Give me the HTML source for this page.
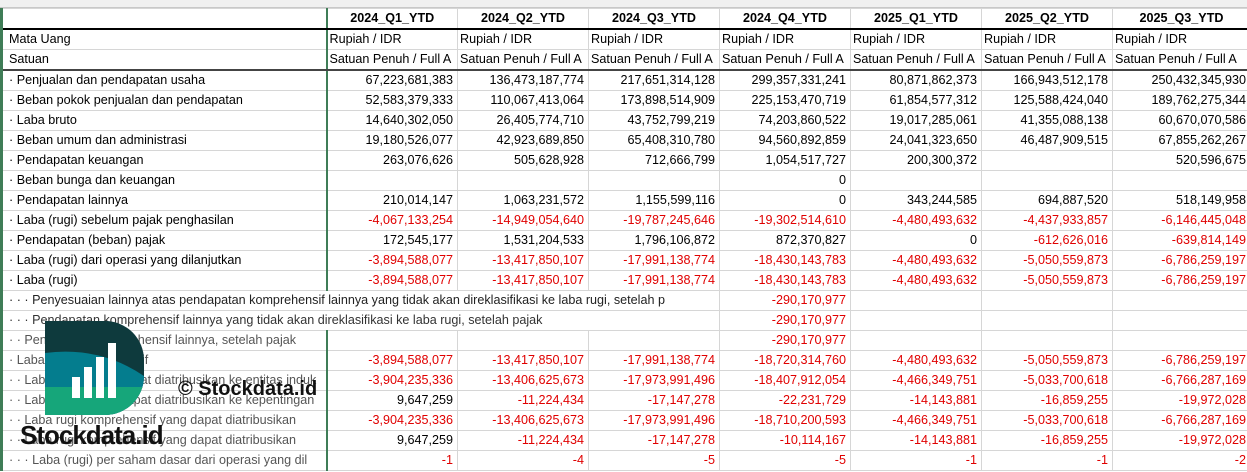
<!DOCTYPE html>
<html><head><meta charset="utf-8"><style>
body{margin:0;width:1247px;height:472px;overflow:hidden;background:#fff;font-family:"Liberation Sans",sans-serif;font-size:12.6px;position:relative}
.strip{position:absolute;left:0;top:0;width:1247px;height:7px;background:#f0f0f0;border-bottom:1px solid #c8c8c8}
table{position:absolute;left:0;top:8px;width:1249px;border-collapse:collapse;table-layout:fixed}
td{height:19px;padding:0 4px;border:1px solid #d6d6d6;white-space:nowrap;overflow:hidden;line-height:19px;text-align:right}
td.a{text-align:left;padding-left:6px;padding-right:2px;border-left:3px solid #3f7d57;border-right:2px solid #3f7d57}
tr.h td{font-weight:bold;text-align:center;border-bottom:2px solid #000}
tr.s td{border-bottom:2px solid #444}
td.l{text-align:left;padding-left:2px}
.r{color:#e00000}
.g{color:#555}
</style></head><body>
<div class="strip"></div>
<table>
<colgroup><col style="width:325px"><col style="width:131px"><col style="width:131px"><col style="width:131px"><col style="width:131px"><col style="width:131px"><col style="width:131px"><col style="width:138px"></colgroup>
<tr class="h"><td class="a"></td><td>2024_Q1_YTD</td><td>2024_Q2_YTD</td><td>2024_Q3_YTD</td><td>2024_Q4_YTD</td><td>2025_Q1_YTD</td><td>2025_Q2_YTD</td><td>2025_Q3_YTD</td></tr>
<tr><td class="a">Mata Uang</td><td class="l">Rupiah / IDR</td><td class="l">Rupiah / IDR</td><td class="l">Rupiah / IDR</td><td class="l">Rupiah / IDR</td><td class="l">Rupiah / IDR</td><td class="l">Rupiah / IDR</td><td class="l">Rupiah / IDR</td></tr>
<tr class="s"><td class="a">Satuan</td><td class="l">Satuan Penuh / Full A</td><td class="l">Satuan Penuh / Full A</td><td class="l">Satuan Penuh / Full A</td><td class="l">Satuan Penuh / Full A</td><td class="l">Satuan Penuh / Full A</td><td class="l">Satuan Penuh / Full A</td><td class="l">Satuan Penuh / Full A</td></tr>
<tr><td class="a">· Penjualan dan pendapatan usaha</td><td>67,223,681,383</td><td>136,473,187,774</td><td>217,651,314,128</td><td>299,357,331,241</td><td>80,871,862,373</td><td>166,943,512,178</td><td>250,432,345,930</td></tr>
<tr><td class="a">· Beban pokok penjualan dan pendapatan</td><td>52,583,379,333</td><td>110,067,413,064</td><td>173,898,514,909</td><td>225,153,470,719</td><td>61,854,577,312</td><td>125,588,424,040</td><td>189,762,275,344</td></tr>
<tr><td class="a">· Laba bruto</td><td>14,640,302,050</td><td>26,405,774,710</td><td>43,752,799,219</td><td>74,203,860,522</td><td>19,017,285,061</td><td>41,355,088,138</td><td>60,670,070,586</td></tr>
<tr><td class="a">· Beban umum dan administrasi</td><td>19,180,526,077</td><td>42,923,689,850</td><td>65,408,310,780</td><td>94,560,892,859</td><td>24,041,323,650</td><td>46,487,909,515</td><td>67,855,262,267</td></tr>
<tr><td class="a">· Pendapatan keuangan</td><td>263,076,626</td><td>505,628,928</td><td>712,666,799</td><td>1,054,517,727</td><td>200,300,372</td><td></td><td>520,596,675</td></tr>
<tr><td class="a">· Beban bunga dan keuangan</td><td></td><td></td><td></td><td>0</td><td></td><td></td><td></td></tr>
<tr><td class="a">· Pendapatan lainnya</td><td>210,014,147</td><td>1,063,231,572</td><td>1,155,599,116</td><td>0</td><td>343,244,585</td><td>694,887,520</td><td>518,149,958</td></tr>
<tr class="r"><td class="a" style="color:#000">· Laba (rugi) sebelum pajak penghasilan</td><td>-4,067,133,254</td><td>-14,949,054,640</td><td>-19,787,245,646</td><td>-19,302,514,610</td><td>-4,480,493,632</td><td>-4,437,933,857</td><td>-6,146,445,048</td></tr>
<tr><td class="a">· Pendapatan (beban) pajak</td><td>172,545,177</td><td>1,531,204,533</td><td>1,796,106,872</td><td>872,370,827</td><td>0</td><td class="r">-612,626,016</td><td class="r">-639,814,149</td></tr>
<tr class="r"><td class="a" style="color:#000">· Laba (rugi) dari operasi yang dilanjutkan</td><td>-3,894,588,077</td><td>-13,417,850,107</td><td>-17,991,138,774</td><td>-18,430,143,783</td><td>-4,480,493,632</td><td>-5,050,559,873</td><td>-6,786,259,197</td></tr>
<tr class="r"><td class="a" style="color:#000">· Laba (rugi)</td><td>-3,894,588,077</td><td>-13,417,850,107</td><td>-17,991,138,774</td><td>-18,430,143,783</td><td>-4,480,493,632</td><td>-5,050,559,873</td><td>-6,786,259,197</td></tr>
<tr><td class="a" colspan="4" style="color:#222;border-right:1px solid #d6d6d6">· · · Penyesuaian lainnya atas pendapatan komprehensif lainnya yang tidak akan direklasifikasi ke laba rugi, setelah p</td><td class="r">-290,170,977</td><td></td><td></td><td></td></tr>
<tr><td class="a" colspan="4" style="color:#333;border-right:1px solid #d6d6d6">· · · Pendapatan komprehensif lainnya yang tidak akan direklasifikasi ke laba rugi, setelah pajak</td><td class="r">-290,170,977</td><td></td><td></td><td></td></tr>
<tr><td class="a g">· · Pendapatan komprehensif lainnya, setelah pajak</td><td></td><td></td><td></td><td class="r">-290,170,977</td><td></td><td></td><td></td></tr>
<tr class="r"><td class="a g">· Laba rugi komprehensif</td><td>-3,894,588,077</td><td>-13,417,850,107</td><td>-17,991,138,774</td><td>-18,720,314,760</td><td>-4,480,493,632</td><td>-5,050,559,873</td><td>-6,786,259,197</td></tr>
<tr class="r"><td class="a g">· · Laba (rugi) yang dapat diatribusikan ke entitas induk</td><td>-3,904,235,336</td><td>-13,406,625,673</td><td>-17,973,991,496</td><td>-18,407,912,054</td><td>-4,466,349,751</td><td>-5,033,700,618</td><td>-6,766,287,169</td></tr>
<tr><td class="a g">· · Laba (rugi) yang dapat diatribusikan ke kepentingan</td><td>9,647,259</td><td class="r">-11,224,434</td><td class="r">-17,147,278</td><td class="r">-22,231,729</td><td class="r">-14,143,881</td><td class="r">-16,859,255</td><td class="r">-19,972,028</td></tr>
<tr class="r"><td class="a g">· · Laba rugi komprehensif yang dapat diatribusikan</td><td>-3,904,235,336</td><td>-13,406,625,673</td><td>-17,973,991,496</td><td>-18,710,200,593</td><td>-4,466,349,751</td><td>-5,033,700,618</td><td>-6,766,287,169</td></tr>
<tr><td class="a g">· · Laba rugi komprehensif yang dapat diatribusikan</td><td>9,647,259</td><td class="r">-11,224,434</td><td class="r">-17,147,278</td><td class="r">-10,114,167</td><td class="r">-14,143,881</td><td class="r">-16,859,255</td><td class="r">-19,972,028</td></tr>
<tr class="r"><td class="a g">· · · Laba (rugi) per saham dasar dari operasi yang dil</td><td>-1</td><td>-4</td><td>-5</td><td>-5</td><td>-1</td><td>-1</td><td>-2</td></tr>
</table>
<svg style="position:absolute;left:45px;top:321px" width="99" height="94" viewBox="0 0 99 94">
<defs><clipPath id="c"><path d="M0 0H60A39 39 0 0 1 99 39V55A39 39 0 0 1 60 94H0Z"/></clipPath></defs>
<g clip-path="url(#c)">
<rect x="0" y="0" width="99" height="94" fill="#0e3a3d"/>
<path d="M0 32Q55 25 99 55V94H0Z" fill="#047d8e"/>
<rect x="0" y="66" width="99" height="28" fill="#16a67a"/>
</g>
<rect x="27" y="56" width="8" height="21" fill="#fff"/>
<rect x="39" y="46" width="8" height="31" fill="#fff"/>
<rect x="51" y="36" width="8" height="41" fill="#fff"/>
<rect x="63" y="22" width="8" height="55" fill="#fff"/>
</svg>
<div style="position:absolute;left:20px;top:420px;font-size:26px;font-weight:bold;color:#111;letter-spacing:-1px">Stockdata.id</div>
<div style="position:absolute;left:178px;top:378px;font-size:20px;font-weight:bold;color:#111">© Stockdata.id</div>
</body></html>
